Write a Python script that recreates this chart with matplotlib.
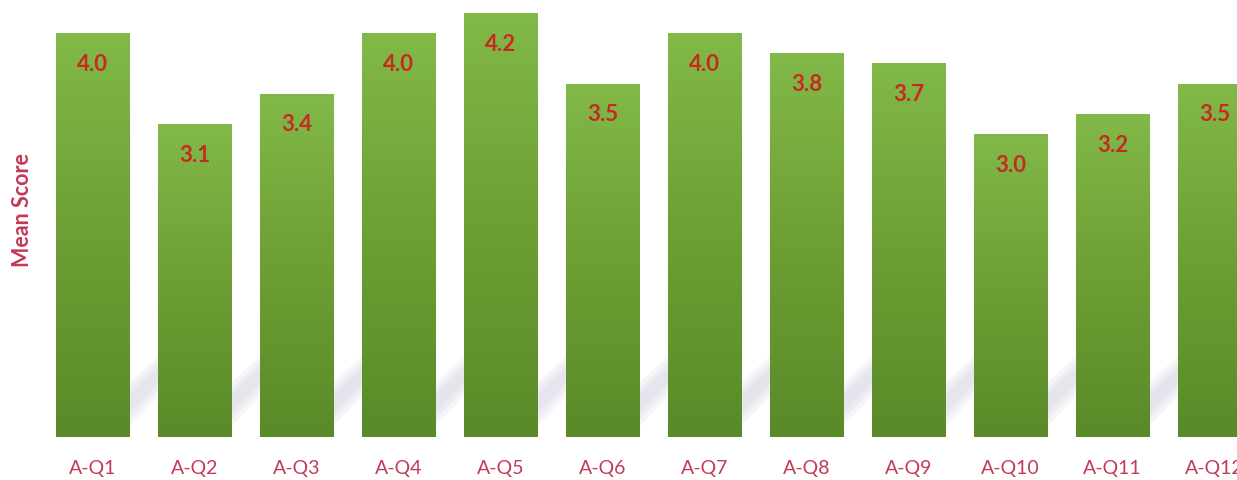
import numpy as np
import matplotlib
matplotlib.use("Agg")
import matplotlib.pyplot as plt
from matplotlib.patches import Polygon
from matplotlib.colors import LinearSegmentedColormap

# 数据
categories = ['A-Q1', 'A-Q2', 'A-Q3', 'A-Q4', 'A-Q5', 'A-Q6',
              'A-Q7', 'A-Q8', 'A-Q9', 'A-Q10', 'A-Q11', 'A-Q12']
scores = [4.0, 3.1, 3.4, 4.0, 4.2, 3.5, 4.0, 3.8, 3.7, 3.0, 3.2, 3.5]

plt.rcParams['font.family'] = ['Lato', 'DejaVu Sans']
red_val = '#c62a22'
red_tick = '#c23a55'

fig = plt.figure(figsize=(12.37, 4.81), dpi=100)
ax = fig.add_axes([0, 43 / 481, 1, 438 / 481])

x = np.arange(len(categories))
bars = ax.bar(x, scores, width=0.716, color='#6fa035', zorder=3)

# 柱子的渐变色
cmap = LinearSegmentedColormap.from_list('g', ['#5a8a28', '#6d9f34', '#82b948'])
grad = np.linspace(0, 1, 256).reshape(-1, 1)
for b in bars:
    x0, y0, w, h = b.get_x(), b.get_y(), b.get_width(), b.get_height()
    im = ax.imshow(grad, extent=[x0, x0 + w, y0, y0 + h], origin='lower',
                   cmap=cmap, aspect='auto', zorder=4)
    im.set_clip_path(b)

# 阴影（斜向的浅灰色，分几层叠加做出模糊效果）
for b in bars:
    xr = b.get_x() + b.get_width()
    xl = b.get_x()
    for k, a in enumerate([0.18, 0.18, 0.18]):
        d = 0.06 * k
        shadow = Polygon([(xl + 0.2 + d, 0.05), (xr - 0.05 - d, 0.05),
                          (xr + 0.75 - d, 0.9), (xr + 0.5 + d, 1.0)], closed=True,
                         facecolor='#c8c8da', edgecolor='none', alpha=a, zorder=2)
        ax.add_patch(shadow)

# 数值标签
for xi, v in zip(x, scores):
    ax.text(xi, v - 0.3, '%.1f' % v, ha='center', va='center',
            fontsize=16, fontweight='bold', color=red_val, zorder=5)

ax.set_xlim(-92.5 / 102, (1237 - 92.5) / 102)
ax.set_ylim(0, 438 / 101)
ax.set_xticks(x)
ax.set_xticklabels(categories, fontsize=14, color=red_tick)
ax.tick_params(axis='x', length=0, pad=16)
ax.set_yticks([])
for s in ax.spines.values():
    s.set_visible(False)

fig.text(23 / 1237, 1 - 210 / 481, 'Mean Score', rotation=90, ha='center',
         va='center', fontsize=15.5, fontweight='bold', color=red_tick)

fig.savefig('out.png', dpi=100)
